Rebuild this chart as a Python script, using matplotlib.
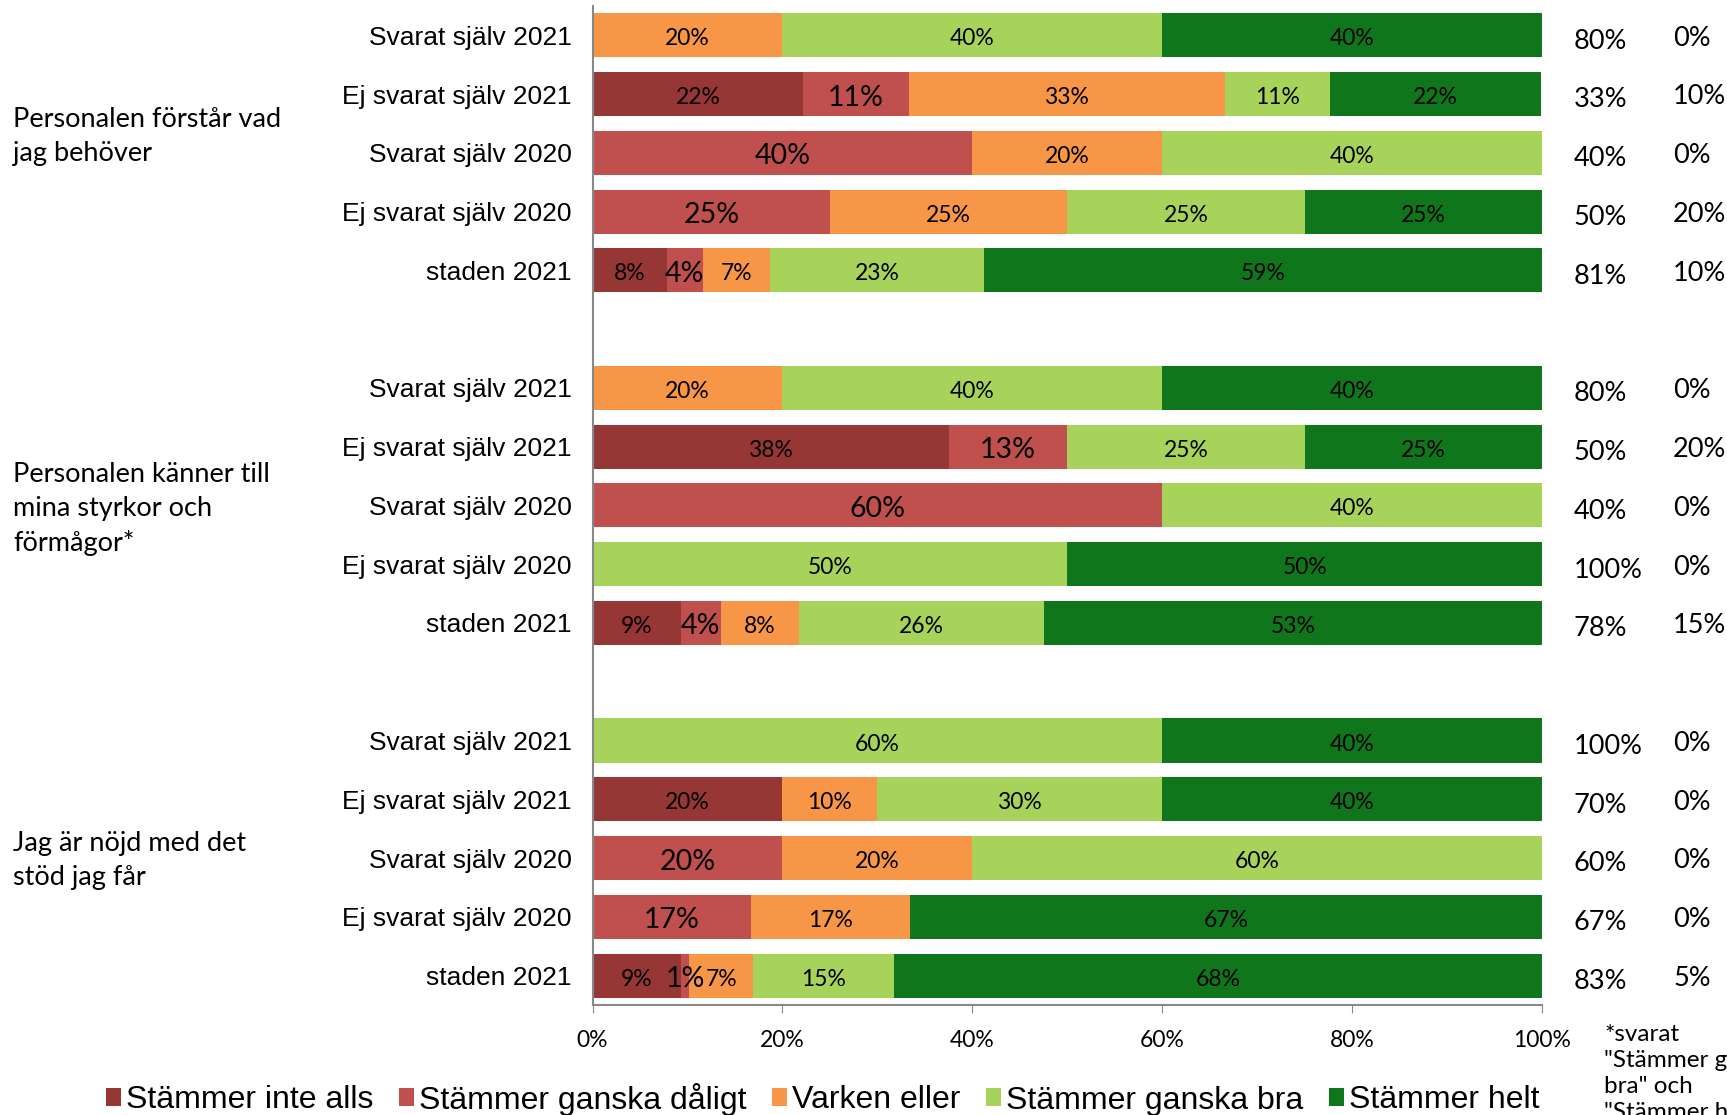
import matplotlib
matplotlib.use("Agg")
import matplotlib.pyplot as plt
import numpy as np

categories = ["Stämmer inte alls", "Stämmer ganska dåligt", "Varken eller",
              "Stämmer ganska bra", "Stämmer helt"]
colors = ["#963735", "#C0504D", "#F79646", "#A8D35B", "#0F761C"]

row_labels = ["Svarat själv 2021", "Ej svarat själv 2021", "Svarat själv 2020",
              "Ej svarat själv 2020", "staden 2021"]

group_titles = ["Personalen förstår vad\njag behöver",
                "Personalen känner till\nmina styrkor och\nförmågor*",
                "Jag är nöjd med det\nstöd jag får"]

g1 = [[0, 0, 20, 40, 40],
      [22.2, 11.1, 33.3, 11.1, 22.2],
      [0, 40, 20, 40, 0],
      [0, 25, 25, 25, 25],
      [7.8, 3.8, 7.1, 22.5, 58.8]]
g2 = [[0, 0, 20, 40, 40],
      [37.5, 12.5, 0, 25, 25],
      [0, 60, 0, 40, 0],
      [0, 0, 0, 50, 50],
      [9.3, 4.2, 8.2, 25.8, 52.5]]
g3 = [[0, 0, 0, 60, 40],
      [20, 0, 10, 30, 40],
      [0, 20, 20, 60, 0],
      [0, 16.7, 16.7, 0, 66.6],
      [9.3, 0.9, 6.7, 14.8, 68.3]]

col1 = [[80, 33, 40, 50, 81], [80, 50, 40, 100, 78], [100, 70, 60, 67, 83]]
col2 = [[0, 10, 0, 20, 10], [0, 20, 0, 0, 15], [0, 0, 0, 0, 5]]

x_ticks = [0, 20, 40, 60, 80, 100]

groups = [g1, g2, g3]

calibri = ["Lato", "DejaVu Sans"]
arial = ["Liberation Sans", "DejaVu Sans"]


def pct(v):
    return f"{int(np.floor(v + 0.5))}%"


fig = plt.figure(figsize=(17.27, 11.15), dpi=100)
ax = fig.add_axes([0.3431, 0.0987, 0.8929 - 0.3431, 0.9947 - 0.0987])

positions = []
for gi, g in enumerate(groups):
    for ri in range(5):
        positions.append(gi * 6 + ri)

all_rows = [r for g in groups for r in g]
data = np.array(all_rows)
pos = np.array(positions)

left = np.zeros(len(pos))
handles = []
for ci in range(5):
    vals = data[:, ci]
    h = ax.barh(pos, vals, left=left, height=0.75, color=colors[ci],
                label=categories[ci])
    handles.append(h)
    for p, l, v in zip(pos, left, vals):
        if v > 0:
            fs = 20.5 if ci == 1 else 16.5
            ax.text(l + v / 2, p + 0.06, pct(v), ha="center", va="center",
                    fontsize=fs, family=calibri, color="black")
    left = left + vals

ax.set_xlim(0, 100)
ax.set_ylim(16.5, -0.5)
ax.set_xticks(x_ticks)
ax.set_xticklabels([f"{t}%" for t in x_ticks], family=calibri, fontsize=16.5)
ax.set_yticks(pos)
ax.set_yticklabels(row_labels * 3, family=arial, fontsize=19)
ax.tick_params(axis="y", length=0, pad=15)
ax.tick_params(axis="x", length=6, color="#888888", pad=12)
for s in ["top", "right"]:
    ax.spines[s].set_visible(False)
for s in ["left", "bottom"]:
    ax.spines[s].set_color("#888888")
    ax.spines[s].set_linewidth(1.5)

# right-hand columns
for gi in range(3):
    for ri in range(5):
        p = gi * 6 + ri
        ax.text(103.3, p + 0.1, f"{col1[gi][ri]}%", ha="left", va="center",
                fontsize=19.5, family=calibri, clip_on=False)
        ax.text(113.8, p + 0.05, f"{col2[gi][ri]}%",
                ha="left", va="center", fontsize=19.5, family=calibri, clip_on=False)

# group titles
title_y = [124, 462, 781]
for t, yy in zip(group_titles, title_y):
    fig.text(13 / 1727, 1 - yy * 1.1014 / 1115, t, ha="left", va="center",
             fontsize=19.5, family=calibri, linespacing=1.45)

# footnote
fig.text(1604 / 1727, 1 - 1024 / 1115,
         "*svarat\n\"Stämmer ganska\nbra\" och\n\"Stämmer helt\"",
         ha="left", va="top", fontsize=17.5, family=calibri, linespacing=1.3)

leg = fig.legend(handles=handles, labels=categories, loc="center",
                 bbox_to_anchor=(0.4764, 1 - 1099 / 1115), ncol=5, frameon=False,
                 prop={"family": arial, "size": 23}, handlelength=0.48,
                 handleheight=0.48, handletextpad=0.15, columnspacing=0.8,
                 borderpad=0)

fig.savefig("out.png", dpi=100)
